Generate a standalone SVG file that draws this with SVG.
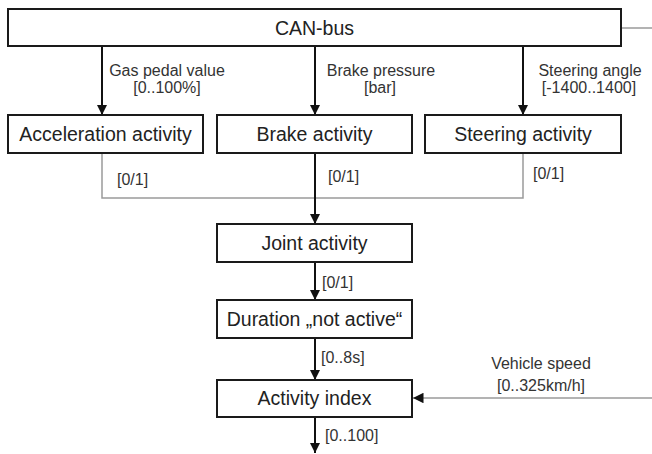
<svg xmlns="http://www.w3.org/2000/svg" width="652" height="454" viewBox="0 0 652 454">
<style>
.box{fill:#fff;stroke:#1a1a1a;stroke-width:2}
.t{font-family:"Liberation Sans",Arial,sans-serif;font-size:19.5px;fill:#222;text-anchor:middle}
.l{font-family:"Liberation Sans",Arial,sans-serif;font-size:16px;fill:#333}
.c{text-anchor:middle}
.blk{fill:none;stroke:#111;stroke-width:2}
.gry{fill:none;stroke:#9a9a9a;stroke-width:1.5}
</style>
<defs>
<marker id="ah" viewBox="0 0 10 10" refX="10" refY="5" markerWidth="5" markerHeight="5" orient="auto" markerUnits="strokeWidth">
<path d="M0,0 L10,5 L0,10 z" fill="#111"/>
</marker>
<marker id="ahs" viewBox="0 0 10 10" refX="10" refY="5" markerWidth="7" markerHeight="7" orient="auto" markerUnits="strokeWidth">
<path d="M0,0 L10,5 L0,10 z" fill="#111"/>
</marker>
</defs>
<g id="connectors">
<path class="blk" d="M102,46 V115" marker-end="url(#ah)"/>
<path class="blk" d="M315,46 V115" marker-end="url(#ah)"/>
<path class="blk" d="M523,46 V115" marker-end="url(#ah)"/>
<path class="gry" d="M621,28 H652"/>
<path class="gry" d="M102,153 V198 H523 V153"/>
<path class="blk" d="M315,153 V224" marker-end="url(#ah)"/>
<path class="blk" d="M315,262 V300" marker-end="url(#ah)"/>
<path class="blk" d="M315,338 V380" marker-end="url(#ah)"/>
<path class="blk" d="M315,417 V453" marker-end="url(#ah)"/>
<path class="gry" d="M652,398 H413" marker-end="url(#ahs)"/>
<text class="l c" x="167" y="76">Gas pedal value</text>
<text class="l c" x="167" y="93">[0..100%]</text>
<text class="l c" x="381" y="76">Brake pressure</text>
<text class="l c" x="380" y="93">[bar]</text>
<text class="l c" x="590" y="76">Steering angle</text>
<text class="l c" x="589" y="93">[-1400..1400]</text>
<text class="l" x="117" y="185">[0/1]</text>
<text class="l" x="328" y="182">[0/1]</text>
<text class="l" x="533" y="179">[0/1]</text>
<text class="l" x="322" y="288">[0/1]</text>
<text class="l" x="321" y="363">[0..8s]</text>
<text class="l" x="325" y="441">[0..100]</text>
<text class="l c" x="541" y="369">Vehicle speed</text>
<text class="l c" x="541" y="391">[0..325km/h]</text>
</g>
<g id="can"><rect class="box" x="8" y="9" width="613" height="37"/><text class="t" x="314.5" y="35">CAN-bus</text></g>
<g id="accel"><rect class="box" x="8" y="115" width="195" height="38"/><text class="t" x="105.5" y="141">Acceleration activity</text></g>
<g id="brake"><rect class="box" x="217" y="115" width="195" height="38"/><text class="t" x="314.5" y="141">Brake activity</text></g>
<g id="steer"><rect class="box" x="425" y="115" width="196" height="38"/><text class="t" x="523" y="141">Steering activity</text></g>
<g id="joint"><rect class="box" x="217" y="224" width="195" height="38"/><text class="t" x="314.5" y="250">Joint activity</text></g>
<g id="duration"><rect class="box" x="217" y="300" width="195" height="38"/><text class="t" x="314.5" y="326">Duration „not active“</text></g>
<g id="index"><rect class="box" x="217" y="380" width="195" height="37"/><text class="t" x="314.5" y="405">Activity index</text></g>
</svg>
